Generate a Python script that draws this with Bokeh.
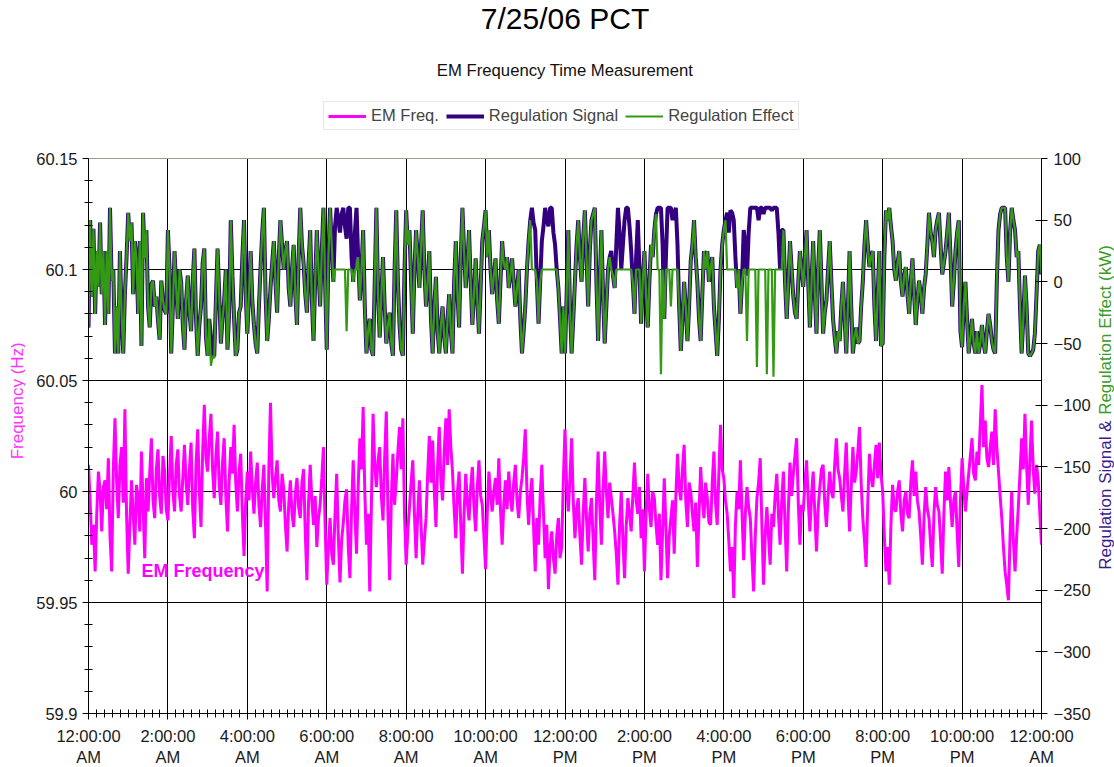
import math
from bokeh.plotting import figure
from bokeh.layouts import row
from bokeh.models import (Range1d, LinearAxis, FixedTicker, Legend, LegendItem, Grid,
                          Label, Span, CustomJSTickFormatter)
from bokeh.embed import file_html
from bokeh.resources import INLINE

FONT = "Liberation Sans"

# ---- data: one list per 2-hour block (samples evenly spaced inside the block) ----
em_freq_hz_blocks = [
    [60.012, 59.995, 59.976, 59.985, 59.964, 59.990, 60.009, 60.000, 59.982, 60.002, 60.005, 59.992,
     60.015, 59.980, 59.964, 60.010, 60.033, 60.005, 59.988, 60.012, 60.020, 59.995, 60.037, 59.990,
     59.963, 59.985, 60.005, 59.990, 59.976, 60.003, 59.997, 59.982, 60.018, 59.993, 59.970, 60.006,
     59.991, 60.008, 60.024, 59.996, 59.988, 60.010, 60.019, 59.998, 59.990, 60.016, 60.009, 59.992],
    [59.987, 60.008, 60.025, 60.000, 59.991, 60.012, 60.019, 59.998, 59.991, 60.006, 60.021, 60.004,
     59.994, 60.010, 60.022, 59.992, 59.979, 60.012, 60.028, 60.000, 59.984, 60.018, 60.039, 60.015,
     60.009, 60.024, 60.035, 60.010, 59.997, 60.016, 60.027, 60.003, 59.994, 60.013, 60.024, 59.998,
     59.982, 60.005, 60.020, 60.008, 60.030, 60.004, 59.991, 60.009, 60.017, 59.990, 59.971, 59.995],
    [60.009, 59.996, 60.018, 60.002, 59.990, 60.004, 60.013, 59.994, 59.984, 60.001, 60.012, 59.985,
     59.955, 60.010, 60.040, 60.008, 59.997, 60.006, 60.014, 59.996, 59.991, 60.008, 60.001, 59.985,
     59.973, 59.994, 60.005, 59.990, 59.984, 59.999, 60.006, 59.993, 59.988, 60.004, 60.010, 59.982,
     59.960, 59.995, 60.012, 59.996, 59.985, 59.998, 59.975, 59.988, 59.994, 60.006, 60.020, 59.985],
    [59.958, 59.975, 59.988, 59.972, 59.967, 59.990, 60.008, 59.980, 59.959, 59.978, 59.986, 59.996,
     60.001, 59.975, 59.961, 59.992, 60.014, 59.990, 59.972, 60.002, 60.024, 60.010, 60.038, 60.000,
     59.976, 59.990, 59.955, 59.995, 60.035, 60.012, 60.002, 60.014, 60.020, 59.998, 59.987, 60.015,
     60.036, 59.990, 59.960, 59.995, 60.017, 59.994, 60.005, 60.018, 60.029, 60.010, 60.033, 59.990],
    [59.967, 59.982, 59.993, 60.004, 60.014, 59.990, 59.970, 59.990, 60.005, 59.985, 59.967, 59.978,
     59.988, 60.008, 60.025, 60.004, 60.023, 60.000, 59.984, 60.012, 60.029, 60.005, 59.996, 60.018,
     60.033, 60.012, 60.037, 60.020, 60.009, 59.992, 59.979, 60.000, 60.009, 59.985, 59.963, 59.990,
     60.008, 59.995, 59.987, 60.002, 60.011, 59.993, 59.982, 60.002, 60.014, 59.998, 59.994, 59.980],
    [59.965, 59.990, 60.009, 59.998, 59.991, 60.000, 60.006, 59.994, 60.015, 59.992, 59.976, 59.994,
     60.005, 59.992, 60.009, 59.997, 59.991, 60.004, 60.012, 59.996, 59.988, 60.000, 60.006, 60.015,
     60.028, 60.000, 59.985, 59.998, 60.006, 59.984, 59.964, 59.988, 59.976, 59.998, 60.012, 59.990,
     59.970, 59.985, 59.956, 59.975, 59.982, 59.970, 59.963, 59.980, 59.988, 59.970, 59.975, 60.005],
    [60.028, 60.002, 59.991, 60.006, 60.024, 59.996, 59.979, 59.992, 59.997, 59.980, 59.967, 59.990,
     60.006, 59.988, 59.973, 59.990, 59.997, 59.978, 59.960, 59.995, 60.018, 59.994, 59.976, 60.000,
     60.018, 60.000, 59.988, 60.004, 59.997, 59.990, 59.982, 59.972, 59.958, 59.985, 60.000, 59.978,
     59.961, 59.984, 59.997, 59.990, 59.982, 59.998, 60.013, 59.996, 59.990, 60.002, 59.979, 59.992],
    [59.964, 59.990, 60.008, 59.992, 59.984, 60.000, 59.997, 59.985, 59.976, 59.990, 59.960, 59.982,
     60.006, 59.984, 59.961, 59.980, 59.988, 59.996, 59.972, 59.998, 60.017, 60.002, 59.996, 60.010,
     60.021, 59.996, 59.984, 60.004, 60.000, 59.990, 59.982, 59.995, 59.966, 59.990, 60.011, 59.996,
     59.988, 60.004, 59.997, 59.986, 59.985, 60.004, 60.018, 59.995, 59.985, 60.008, 60.030, 60.010],
    [60.006, 59.996, 59.990, 59.978, 59.964, 59.975, 59.952, 59.985, 60.000, 59.992, 60.014, 59.990,
     59.969, 59.990, 60.002, 59.993, 59.988, 59.970, 59.955, 59.980, 59.997, 60.004, 60.015, 59.985,
     59.958, 59.980, 59.993, 59.980, 59.967, 59.990, 59.984, 59.998, 60.008, 59.990, 59.976, 59.996,
     60.009, 59.985, 59.964, 59.992, 60.013, 59.998, 60.008, 60.016, 60.024, 59.995, 59.976, 59.994],
    [59.991, 60.004, 60.014, 59.996, 59.982, 59.998, 60.009, 59.990, 59.973, 59.992, 60.002, 60.010,
     60.012, 59.995, 59.984, 59.998, 60.009, 60.000, 59.997, 60.012, 60.024, 60.010, 60.006, 59.998,
     59.991, 60.008, 60.022, 60.000, 59.982, 60.002, 60.020, 60.004, 60.009, 60.018, 60.029, 60.004,
     59.988, 59.978, 59.966, 59.995, 60.017, 60.006, 60.002, 60.012, 60.021, 60.006, 60.022, 60.008],
    [60.000, 59.980, 59.964, 59.975, 59.958, 59.985, 60.003, 59.992, 59.991, 60.000, 60.005, 59.990,
     59.982, 59.996, 60.000, 59.990, 59.988, 60.004, 60.014, 59.998, 60.009, 59.996, 59.991, 59.980,
     59.967, 59.988, 60.002, 59.992, 59.988, 59.976, 59.966, 59.990, 60.002, 59.994, 59.991, 59.978,
     59.963, 59.990, 60.009, 59.996, 60.011, 59.995, 59.984, 59.996, 60.000, 59.982, 59.966, 59.996],
    [60.015, 60.002, 59.991, 60.000, 60.008, 60.016, 60.024, 60.008, 60.005, 60.018, 60.012, 60.030,
     60.048, 60.020, 60.032, 60.015, 60.011, 60.020, 60.027, 60.012, 60.037, 60.020, 60.009, 59.998,
     59.988, 59.975, 59.964, 59.958, 59.951, 59.980, 60.000, 59.978, 59.964, 59.980, 59.993, 60.008,
     60.024, 60.010, 60.035, 60.012, 59.994, 60.015, 60.032, 60.010, 59.999, 60.012, 60.005, 59.990],
]
em_freq_at_midnight_end = 59.976

regulation_signal_kw_blocks = [
    [-37, 50, -12, 43, -26, 25, -4, 48, -10, 25, -35, 25, -26, 60, 1, 10, -58, -20, -58, 25, -26, -58, -10, 20,
     56, 33, 48, -10, 33, 19, -26, 33, -52, 56, 19, 42, -20, -37, -2, 1, -20, -12, -31, -47, 1, -15, -23, -26],
    [42, 10, -58, -20, 25, -5, -30, 10, 0, -35, -55, -15, 5, -25, -40, 0, 27, -30, -60, -35, -20, 15, 27, -45,
     -60, -30, -45, -60, -60, -15, 27, -10, -50, -30, -15, 10, -55, -25, 50, 5, -30, -60, -55, -25, -20, 20, 50, -10],
    [-42, -10, 25, -15, -35, -50, -58, -20, 12, 40, 60, -10, -48, -30, -5, 15, 33, 0, -25, 20, 50, 30, 10, 25,
     33, -5, -20, 10, 30, -10, -35, 20, 60, 30, 15, -10, -25, 15, 42, -15, -48, 0, 42, 10, -20, 25, 60, 0],
    [-55, 20, 60, 30, 0, 45, 60, 50, 40, 55, 60, 45, 35, 60, 60, 20, 0, 40, 60, 20, -15, 10, 42, -20,
     -58, -40, -30, -55, -60, 0, 60, -10, -45, -10, 20, -20, -50, -35, -25, -50, -60, 10, 58, 0, -35, -55, -60, 10],
    [58, 30, 42, 0, -42, 10, 42, 20, -5, 30, 58, 10, -20, 0, 25, -30, -58, -20, 4, -40, -58, -35, -20, -45,
     -58, -30, -10, -40, -58, 0, 33, -10, -37, 20, 60, 25, -5, 15, 42, 0, -35, -10, 19, -15, -42, -5, 33, 45],
    [58, 20, 42, 10, -10, 5, 19, -15, -34, 0, 33, 15, 10, 20, -5, 5, 19, 0, -20, -5, 10, -30, -58, -40,
     -20, 10, 33, 50, 60, 48, 42, 0, -34, 0, 33, 45, 60, 50, 45, 60, 60, 40, 30, 10, -5, -30, -58, -20],
    [-58, -10, 42, -20, -58, -30, 0, 30, 50, 20, 0, 35, 58, 20, -20, 25, 50, 55, 60, 0, -48, 0, 42, -10,
     -50, -20, 10, 20, 25, 5, -5, 30, 60, 40, 10, 30, 50, 60, 60, 45, 25, 0, -26, 20, 50, 10, -34, 0],
    [25, -10, -37, 0, 30, 20, 42, 55, 60, 60, 60, 30, -30, 20, 60, 60, 60, 50, 56, 60, 30, -20, -56, -30,
     0, -20, -48, -20, 17, 30, 50, 20, 0, -30, -48, -10, 25, 10, 25, 0, 12, 20, -20, -40, -60, -30, 10, 30],
    [42, 50, 56, 40, 58, 56, 50, 20, -5, 10, -26, 0, 42, 30, 5, 40, 60, 60, 60, 60, 60, 50, 60, 60,
     55, 60, 60, 60, 60, 58, 60, 60, 60, 40, 10, 42, 42, 0, -30, 0, 33, 10, -12, -25, -30, 0, 25, 10],
    [-4, 20, 42, 0, -37, 0, 33, -10, -42, 10, 42, 0, -42, -25, -15, 10, 33, 0, -30, -45, -58, -40, -48, -20,
     0, -30, -58, -20, 25, -20, -58, -45, -37, -50, -48, -20, 0, 30, 50, 30, 12, 20, 25, -20, -48, -10, 25, -52],
    [-50, 20, 58, 50, 60, 45, 33, 10, 1, 15, 25, 0, -12, 5, 12, -10, -26, 0, 19, -10, -35, -15, 1, -10,
     -26, -5, 6, 30, 56, 40, 33, 20, 42, 50, 56, 30, 6, 15, 25, 40, 56, 20, -20, 0, 25, 40, 50, -40],
    [-53, -20, 0, -30, -58, -45, -30, -50, -58, -40, -58, -50, -35, -50, -58, -40, -26, -35, -48, -55, -58, 0, 42, 55,
     60, 60, 60, 20, 0, 40, 60, 50, 42, 20, 25, -20, -58, -30, 5, -20, -58, -60, -58, -55, -42, -10, 25, 30],
]
regulation_signal_at_midnight_end = 6

# regulation effect: equals the signal, but stays flat at the level shown inside these
# windows (start, end, kW) and drops to the read-off values at these times
effect_flat_windows = [("06:10", "06:45", 10), ("11:10", "11:50", 10), ("13:10", "13:55", 10),
                       ("14:18", "14:52", 10), ("16:05", "17:28", 10)]
effect_dips_kw = {"03:05": -68, "03:10": -62, "06:30": -40, "14:25": -75, "14:40": -20,
                  "16:35": -48, "16:50": -69, "17:05": -75, "17:15": -77}

x_tick_labels = ["12:00:00\nAM", "2:00:00\nAM", "4:00:00\nAM", "6:00:00\nAM", "8:00:00\nAM",
                 "10:00:00\nAM", "12:00:00\nPM", "2:00:00\nPM", "4:00:00\nPM", "6:00:00\nPM",
                 "8:00:00\nPM", "10:00:00\nPM", "12:00:00\nAM"]
freq_ticks = [59.9, 59.95, 60.0, 60.05, 60.1, 60.15]
kw_ticks = [-350, -300, -250, -200, -150, -100, -50, 0, 50, 100]


# ---- assemble series ----
def flatten(blocks, last):
    xs, ys = [], []
    for b, vals in enumerate(blocks):
        for j, v in enumerate(vals):
            xs.append(2.0 * b + 2.0 * j / len(vals))
            ys.append(v)
    xs.append(24.0)
    ys.append(last)
    return xs, ys


def hm(s):
    h, m = s.split(":")
    return int(h) + int(m) / 60.0


hours_f, em_freq = flatten(em_freq_hz_blocks, em_freq_at_midnight_end)
hours_s, signal = flatten(regulation_signal_kw_blocks, regulation_signal_at_midnight_end)
effect = list(signal)
for a, b, lvl in effect_flat_windows:
    for i, t in enumerate(hours_s):
        if hm(a) <= t <= hm(b):
            effect[i] = min(signal[i], lvl)
for t_str, v in effect_dips_kw.items():
    t = hm(t_str)
    i = min(range(len(hours_s)), key=lambda k: abs(hours_s[k] - t))
    effect[i] = v

# ---- main figure: tall frame, axes bounded to the data box ----
FW, FH = 953, 713
H = FH + 54
BOX_TOP = 158
f_lo, f_hi = 59.9, 60.15
k_lo, k_hi = -350.0, 100.0
f_top = f_hi + BOX_TOP * (f_hi - f_lo) / (FH - BOX_TOP)
k_top = k_hi + BOX_TOP * (k_hi - k_lo) / (FH - BOX_TOP)

p = figure(frame_width=FW, frame_height=FH, x_range=Range1d(0, 24), y_range=Range1d(f_lo, f_top),
           output_backend="svg", toolbar_location=None, title=None,
           min_border_left=63, min_border_right=50, min_border_top=0, min_border_bottom=54)
p.extra_y_ranges = {"kw": Range1d(k_lo, k_top)}
p.background_fill_color = "white"
p.border_fill_color = "white"
p.outline_line_color = None

r_f = p.line(hours_f, em_freq, line_color="#ff00ff", line_width=3)
r_s = p.line(hours_s, signal, line_color="#330080", line_width=4, y_range_name="kw")
r_e = p.line(hours_s, effect, line_color="#349a14", line_width=2.2, y_range_name="kw")

xa = p.xaxis[0]
xa.ticker = FixedTicker(ticks=list(range(0, 25, 2)), minor_ticks=[k * 0.2 for k in range(121)])
xa.formatter = CustomJSTickFormatter(args=dict(labels=x_tick_labels),
                                     code="return labels[Math.round(tick / 2)];")
ya = p.yaxis[0]
ya.bounds = (f_lo, f_hi)
ya.ticker = FixedTicker(ticks=freq_ticks, minor_ticks=[59.9 + k * 0.01 for k in range(26)])
ya.formatter = CustomJSTickFormatter(code="return tick.toFixed(2).replace(/\\.?0+$/, '');")

ra = LinearAxis(y_range_name="kw", ticker=FixedTicker(ticks=kw_ticks), bounds=(k_lo, k_hi))
p.add_layout(ra, "right")

for ax in (xa, ya, ra):
    ax.axis_line_color = "black"
    ax.major_tick_line_color = "black"
    ax.minor_tick_line_color = "black"
    ax.major_label_text_font = FONT
    ax.major_label_text_font_size = "16.5px"
    ax.major_label_text_color = "#1a1a1a"
ra.minor_tick_line_color = None
ra.major_tick_in = 6
ra.major_tick_out = 6
for ax in (xa, ya):
    ax.major_tick_in = 0
    ax.major_tick_out = 6
    ax.minor_tick_in = 4
    ax.minor_tick_out = 4
xa.major_label_standoff = 7
xa.major_label_text_line_height = 1.2
ya.major_label_standoff = 5
ra.major_label_standoff = 6

p.xgrid.ticker = FixedTicker(ticks=list(range(2, 23, 2)))
p.xgrid.grid_line_color = "black"
p.xgrid.grid_line_width = 1
if "cross_bounds" in Grid.properties():
    p.xgrid.cross_bounds = (f_lo, f_hi)
else:
    p.xgrid.visible = False
    p.segment(x0=list(range(2, 23, 2)), y0=f_lo, x1=list(range(2, 23, 2)), y1=f_hi,
              line_color="black", line_width=1)
p.ygrid.ticker = FixedTicker(ticks=freq_ticks[1:-1])
p.ygrid.grid_line_color = "black"
p.ygrid.grid_line_width = 1
p.add_layout(Span(location=f_hi, dimension="width", line_color="#a89a8c", line_width=1))

p.add_layout(Label(x=12, y=f_hi, y_offset=BOX_TOP - 18, text="7/25/06 PCT", text_font=FONT,
                   text_font_size="30px", text_color="black",
                   text_align="center", text_baseline="middle"))
p.add_layout(Label(x=12, y=f_hi, y_offset=BOX_TOP - 70, text="EM Frequency Time Measurement",
                   text_font=FONT, text_font_size="16.7px", text_color="#111111",
                   text_align="center", text_baseline="middle"))
p.add_layout(Label(x=1.335, y=59.9644, text="EM Frequency", text_color="#ff00ff",
                   text_font=FONT, text_font_size="18px", text_font_style="bold",
                   text_baseline="middle", text_align="left"))

legend = Legend(items=[LegendItem(label="EM Freq.", renderers=[r_f]),
                       LegendItem(label="Regulation Signal", renderers=[r_s]),
                       LegendItem(label="Regulation Effect", renderers=[r_e])],
                orientation="horizontal", location=(235, FH - 130),
                label_text_font=FONT, label_text_font_size="16.5px",
                glyph_width=38, glyph_height=18, label_standoff=5, spacing=7,
                padding=4, margin=0, border_line_color="#cfcfcf",
                background_fill_color="white")
p.add_layout(legend)


def side_strip(width):
    s = figure(width=width, height=H, x_range=Range1d(0, width), y_range=Range1d(0, H),
               x_axis_type=None, y_axis_type=None, toolbar_location=None,
               output_backend="svg", min_border=0)
    s.outline_line_color = None
    s.background_fill_color = "white"
    s.border_fill_color = "white"
    return s


# left axis title (starts at page y ~495 and reads upward)
left = side_strip(25)
left.add_layout(Label(x=16.5, y=H - 495, angle=math.pi / 2, text="Frequency (Hz)",
                      text_color="#ff33ff", text_font=FONT, text_font_size="17px",
                      text_baseline="middle", text_align="left"))

# right two-colour axis title (meets at page y ~ 449)
right = side_strip(23)
right.add_layout(Label(x=11.5, y=H - 453, angle=math.pi / 2, text="Regulation Signal &",
                       text_color="#3b1a8c", text_font=FONT, text_font_size="17px",
                       text_baseline="middle", text_align="right"))
right.add_layout(Label(x=11.5, y=H - 447, angle=math.pi / 2, text="Regulation Effect (kW)",
                       text_color="#3c9a28", text_font=FONT, text_font_size="17px",
                       text_baseline="middle", text_align="left"))

layout = row(left, p, right)
open("out.html", "w").write(file_html(layout, INLINE))
